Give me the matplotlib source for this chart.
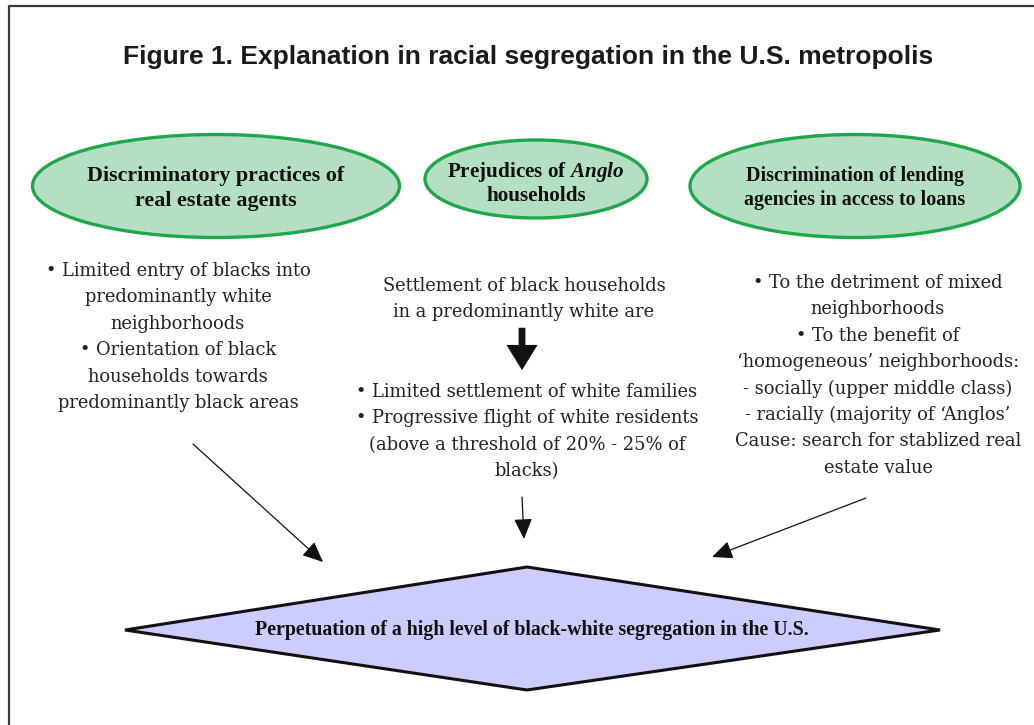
import matplotlib

matplotlib.use("Agg")
import matplotlib.pyplot as plt
from matplotlib.patches import Ellipse, Polygon, FancyArrowPatch

plt.rcParams["mathtext.fontset"] = "custom"
plt.rcParams["mathtext.rm"] = "Liberation Serif"
plt.rcParams["mathtext.bfit"] = "Liberation Serif:bold:italic"

# ---- content ---------------------------------------------------------------
TITLE = "Figure 1. Explanation in racial segregation in the U.S. metropolis"

CAUSES = [
    ["Discriminatory practices of", "real estate agents"],
    [r"Prejudices of $\mathbfit{Anglo}$", "households"],
    ["Discrimination of lending", "agencies in access to loans"],
]

LEFT_LINES = [
    "\u2022 Limited entry of blacks into",
    "predominantly white",
    "neighborhoods",
    "\u2022 Orientation of black",
    "households towards",
    "predominantly black areas",
]
MID_TOP = [
    "Settlement of black households",
    "in a predominantly white are",
]
MID_BOTTOM = [
    "\u2022 Limited settlement of white families",
    "\u2022 Progressive flight of white residents",
    "(above a threshold of 20% - 25% of",
    "blacks)",
]
RIGHT_LINES = [
    "\u2022 To the detriment of mixed",
    "neighborhoods",
    "\u2022 To the benefit of",
    "\u2018homogeneous\u2019 neighborhoods:",
    "- socially (upper middle class)",
    "- racially (majority of \u2018Anglos\u2019",
    "Cause: search for stablized real",
    "estate value",
]
OUTCOME = "Perpetuation of a high level of black-white segregation in the U.S."

# ---- layout (pixel coordinates, y grows downward) --------------------------
ELLIPSES = [(216, 186, 367, 103), (536, 179, 222, 78), (855, 186, 330, 103)]
ELL_TEXT_Y = [(176, 201), (172, 196), (176, 200)]
ELL_SIZE = [15.8, 15.2, 14.4]
GREEN_FILL = "#b4dfc3"
GREEN_EDGE = "#1fa84b"
BODY_FONT = "DejaVu Serif"
BODY_SIZE = 12.9
PITCH = 26.4

fig = plt.figure(figsize=(10.34, 7.25), dpi=100)
ax = fig.add_axes([0, 0, 1, 1])
ax.set_xlim(0, 1034)
ax.set_ylim(725, 0)
ax.axis("off")

# frame (top and left edges only are visible)
ax.plot([9, 9, 1034], [725, 5.5, 5.5], color="#3a3a3a", lw=1.6,
        solid_capstyle="butt")

ax.text(528, 57, TITLE, ha="center", va="center", fontsize=19,
        fontweight="bold", family=["Liberation Sans", "DejaVu Sans"],
        color="#1a1a1a")

for (cx, cy, w, h), lines, ys, fs in zip(ELLIPSES, CAUSES, ELL_TEXT_Y,
                                         ELL_SIZE):
    ax.add_patch(Ellipse((cx, cy), w, h, facecolor=GREEN_FILL,
                         edgecolor=GREEN_EDGE, lw=2.4))
    for line, y in zip(lines, ys):
        ax.text(cx, y, line, ha="center", va="center", fontsize=fs,
                fontweight="bold", family="Liberation Serif", color="#111")


def block(lines, x, y0):
    for i, line in enumerate(lines):
        ax.text(x, y0 + i * PITCH, line, ha="center", va="center",
                fontsize=BODY_SIZE, family=BODY_FONT, color="#222")


block(LEFT_LINES, 178, 271)
block(MID_TOP, 524, 286)
block(MID_BOTTOM, 527, 392)
block(RIGHT_LINES, 878, 283)

# thick arrow in the middle column
ax.add_patch(FancyArrowPatch((522, 325), (522, 373),
                             arrowstyle="simple,head_length=1.3,head_width=1.6,tail_width=0.35",
                             mutation_scale=14, color="#111", lw=0))

# thin arrows to the outcome
for start, end in [((193, 444), (323, 562)), ((522, 497), (524, 539)),
                   ((866, 498), (712, 557))]:
    ax.add_patch(FancyArrowPatch(start, end,
                                 arrowstyle="-|>,head_length=0.9,head_width=0.4",
                                 mutation_scale=14, color="#111", lw=0.9,
                                 shrinkA=0, shrinkB=0))

# outcome diamond
ax.add_patch(Polygon([(125, 630), (527, 567), (940, 630), (527, 690)],
                     closed=True, facecolor="#ccccff", edgecolor="#111",
                     lw=2.2, joinstyle="miter"))
ax.text(532, 630, OUTCOME, ha="center", va="center", fontsize=14.3,
        fontweight="bold", family="Liberation Serif", color="#111")

fig.savefig("out.png", dpi=100)
